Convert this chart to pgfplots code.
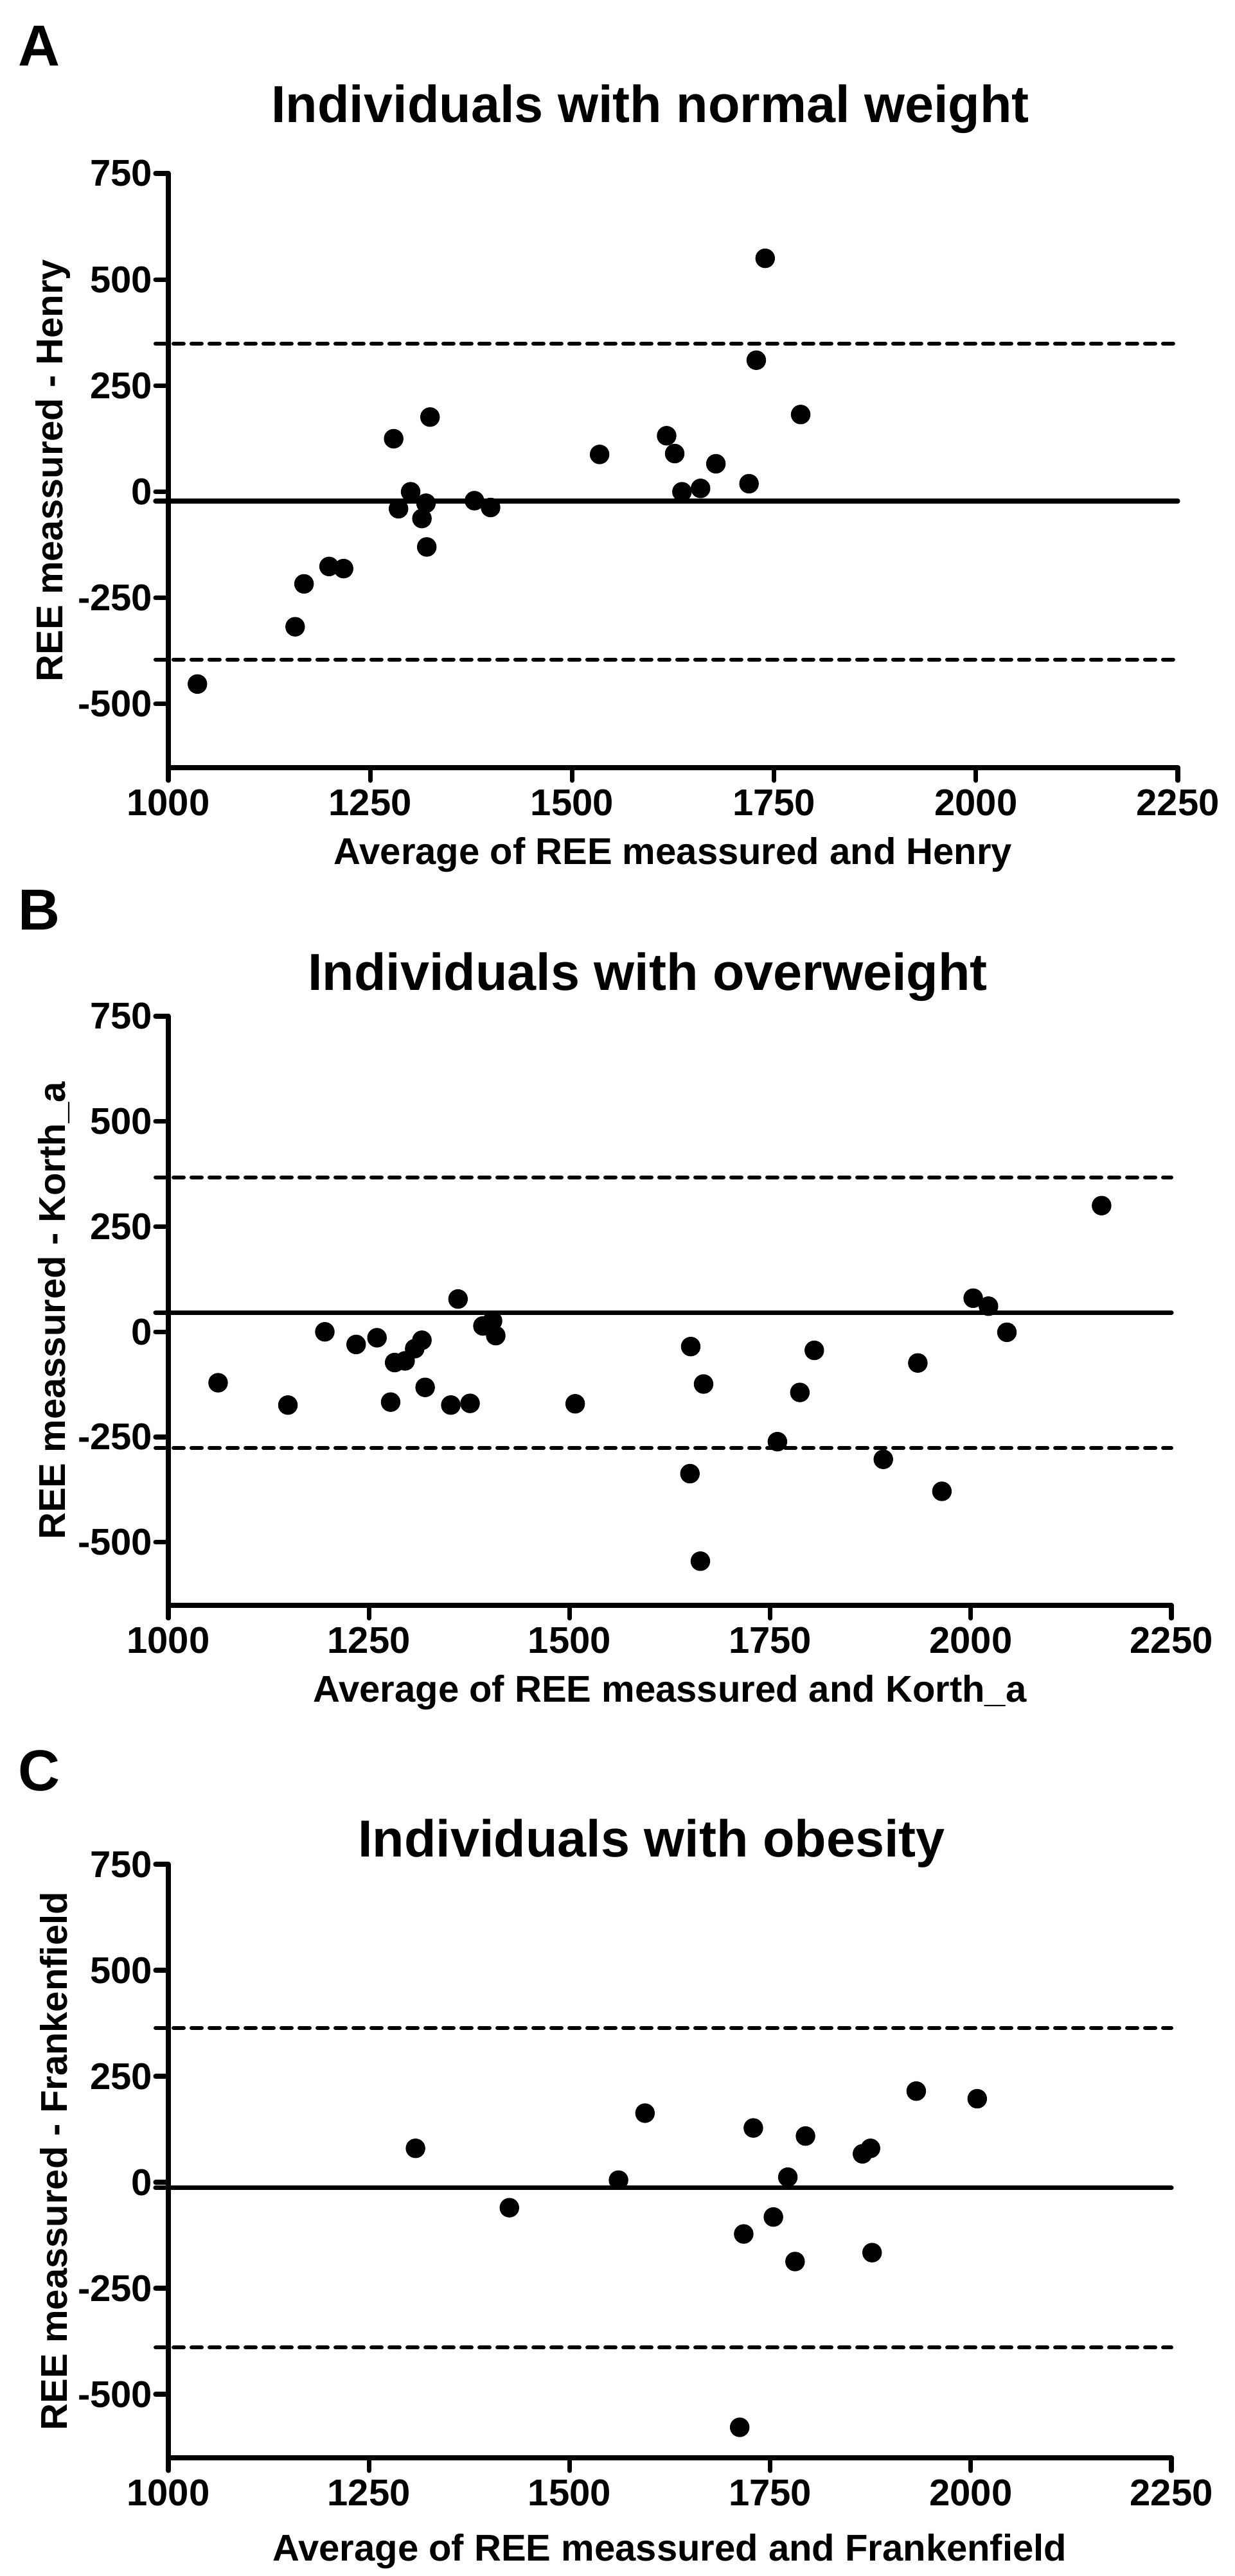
\documentclass[border=0pt]{standalone}
\usepackage{fontspec}
\setmainfont{Liberation Sans}
\usepackage{pgfplots}
\pgfplotsset{compat=1.18}

% 1 px of the reference = 0.25pt
\pgfplotsset{
  ba/.style={
    scale only axis,
    anchor=south west,
    xmin=1000, xmax=2250,
    ymin=-650, ymax=750,
    xtick={1000,1250,1500,1750,2000,2250},
    xticklabels={1000,1250,1500,1750,2000,2250},
    ytick={-500,-250,0,250,500,750},
    yticklabels={-500,-250,0,250,500,750},
    axis lines*=left,
    axis line style={line width=2pt, line cap=round},
    tick align=outside,
    major tick length=5pt,
    tick style={line width=1.8pt, black, line cap=round},
    tick label style={font=\fontsize{14.5}{14.5}\selectfont\bfseries},
    yticklabel style={inner sep=1pt},
    label style={font=\fontsize{14.5}{14.5}\selectfont\bfseries},
    ylabel style={at={(axis description cs:-0.114,0.5)}, anchor=center},
    xlabel style={at={(axis description cs:0.5,0)}, anchor=base, yshift=-37.5pt},
    clip=false,
  },
  meanline/.style={black, line width=1.8pt, line cap=round},
  loaline/.style={black, line width=1.5pt, line cap=round, dash pattern=on 4pt off 3pt},
  pts/.style={only marks, mark=*, mark size=3.6pt, black},
}

\begin{document}
\begin{tikzpicture}
\useasboundingbox (0,0) rectangle (480.25pt,-1002.5pt);

% ---------- A ----------
\node[anchor=base west, inner sep=0, font=\fontsize{22.5}{22.5}\selectfont\bfseries] at (7pt,-25.75pt) {A};
\node[anchor=base, inner sep=0, font=\fontsize{20.25}{20.25}\selectfont\bfseries] at (253pt,-47.75pt) {Individuals with normal weight};
\begin{axis}[ba,
  at={(65.5pt,-298.75pt)},
  width=392.75pt, height=231.25pt,
  xlabel={Average of REE meassured and Henry},
  ylabel={REE meassured - Henry},
]
\addplot[loaline] coordinates {(984,349) (2250,349)};
\addplot[loaline] coordinates {(984,-395) (2250,-395)};
\addplot[meanline] coordinates {(984,-22) (2250,-22)};
\addplot[pts] coordinates {
(1036,-453) (1157,-318) (1168,-217) (1199,-176) (1217,-181) (1279,125)
(1285,-40) (1300,0) (1314,-63) (1319,-27) (1320,-130) (1324,176)
(1379,-21) (1399,-37) (1534,88) (1617,132) (1627,90) (1636,0)
(1659,8) (1678,66) (1719,19) (1728,310) (1739,550) (1783,182)
};
\end{axis}

% ---------- B ----------
\node[anchor=base west, inner sep=0, font=\fontsize{22.5}{22.5}\selectfont\bfseries] at (7pt,-361.75pt) {B};
\node[anchor=base, inner sep=0, font=\fontsize{20.25}{20.25}\selectfont\bfseries] at (252pt,-385.25pt) {Individuals with overweight};
\begin{axis}[ba,
  at={(65.5pt,-624.75pt)},
  width=390.25pt, height=229.25pt,
  xlabel={Average of REE meassured and Korth\_a},
  ylabel={REE meassured - Korth\_a},
]
\addplot[loaline] coordinates {(984,367) (2250,367)};
\addplot[loaline] coordinates {(984,-276) (2250,-276)};
\addplot[meanline] coordinates {(984,46) (2250,46)};
\addplot[pts] coordinates {
(1062,-121) (1149,-174) (1195,0) (1234,-30) (1260,-14) (1277,-167)
(1282,-73) (1295,-69) (1307,-40) (1316,-20) (1320,-132) (1352,-174)
(1361,78) (1376,-170) (1392,14) (1404,26) (1408,-9) (1507,-171)
(1651,-35) (1650,-337) (1667,-124) (1663,-545) (1759,-261) (1787,-144)
(1805,-44) (1891,-303) (1934,-74) (1964,-379) (2003,80) (2022,61)
(2045,-1) (2163,300)
};
\end{axis}

% ---------- C ----------
\node[anchor=base west, inner sep=0, font=\fontsize{22.5}{22.5}\selectfont\bfseries] at (7pt,-696.75pt) {C};
\node[anchor=base, inner sep=0, font=\fontsize{20.25}{20.25}\selectfont\bfseries] at (253.5pt,-722.5pt) {Individuals with obesity};
\begin{axis}[ba,
  at={(65.5pt,-956.5pt)},
  width=390.25pt, height=231pt,
  xlabel={Average of REE meassured and Frankenfield},
  ylabel={REE meassured - Frankenfield},
  xlabel style={yshift=-2.5pt},
]
\addplot[loaline] coordinates {(984,364) (2250,364)};
\addplot[loaline] coordinates {(984,-390) (2250,-390)};
\addplot[meanline] coordinates {(984,-13) (2250,-13)};
\addplot[pts] coordinates {
(1308,80) (1425,-60) (1561,5) (1594,163) (1712,-578) (1717,-122)
(1729,128) (1754,-82) (1772,12) (1781,-187) (1794,109) (1865,67)
(1875,80) (1877,-166) (1932,215) (2008,197)
};
\end{axis}
\end{tikzpicture}
\end{document}
